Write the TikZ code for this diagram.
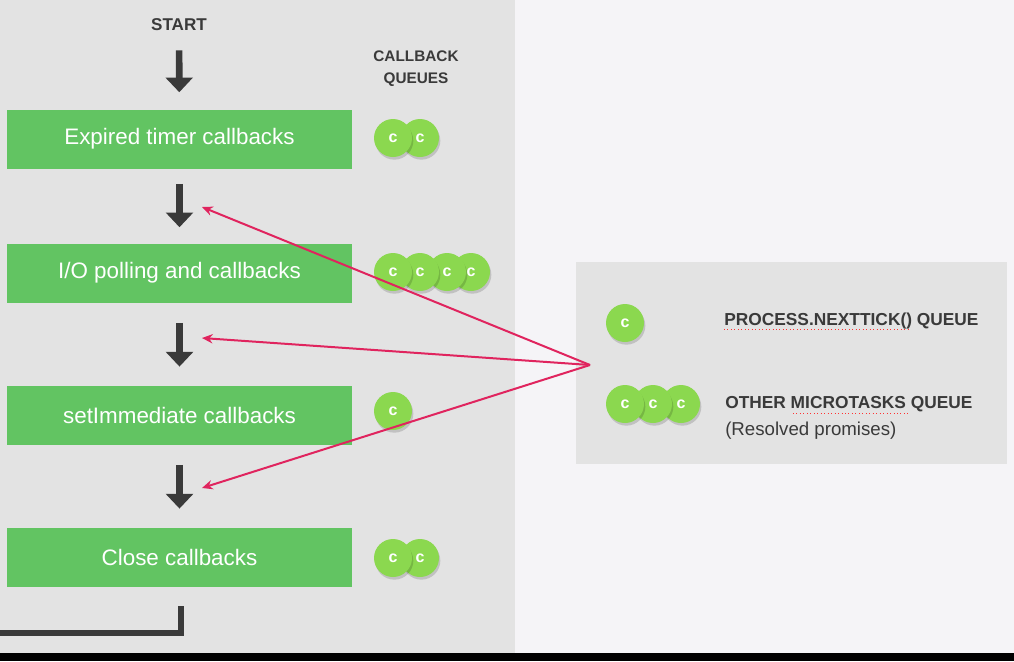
\documentclass[tikz,border=0pt]{standalone}
\usepackage{fontspec}
\setmainfont{Liberation Sans}
\usetikzlibrary{arrows.meta,shadows}
\definecolor{panel}{HTML}{E3E3E3}
\definecolor{page}{HTML}{F5F4F7}
\definecolor{phasegreen}{HTML}{62C462}
\definecolor{cbgreen}{HTML}{8BD84F}
\definecolor{ink}{HTML}{3A3A3A}
\definecolor{tickred}{HTML}{E0245E}
\tikzset{
  phase/.style={fill=phasegreen, text=white, minimum width=258.75pt, minimum height=44.25pt,
    inner sep=0pt, font=\fontsize{16.8}{20}\selectfont},
  cb/.style={circle, fill=cbgreen, minimum size=28.5pt, inner sep=0pt, text=white,
    font=\bfseries\fontsize{12}{14}\selectfont,
    drop shadow={shadow xshift=1pt, shadow yshift=-2pt, opacity=0.15, fill=black}},
  flow/.style={draw=ink, line width=5pt, -{Triangle[width=20pt,length=11pt]}},
  tick/.style={draw=tickred, line width=1.5pt, -{Stealth[width=7pt,length=8pt]}},
  label/.style={text=ink, font=\bfseries\fontsize{13}{15}\selectfont, anchor=west, inner sep=0pt},
  squiggle/.style={draw=red!80, dotted, line width=0.6pt}
}
\begin{document}
\begin{tikzpicture}[x=0.75pt, y=-0.75pt]
        \useasboundingbox (0,0) rectangle (1014,661);
        % backgrounds
        \fill[page] (0,0) rectangle (1014,661);
        \fill[panel] (0,0) rectangle (515,653);
        \fill[black] (0,653) rectangle (1014,661);
        \fill[panel] (576,262) rectangle (1007,464);
        % phases
        \node[text=ink, font=\bfseries\fontsize{12.8}{15}\selectfont] (start) at (179,25) {START};
        \node[phase] (p1) at (179.5,139) {Expired timer callbacks};
        \node[phase] (p2) at (179.5,273) {I/O polling and callbacks};
        \node[phase] (p3) at (179.5,415) {setImmediate callbacks};
        \node[phase] (p4) at (179.5,557) {Close callbacks};
        \draw[flow, shorten <=11pt, shorten >=12.75pt] (start) -- (p1);
        \draw[flow, shorten <=11.25pt, shorten >=12pt] (p1) -- (p2);
        \draw[flow, shorten <=15pt, shorten >=14pt] (p2) -- (p3);
        \draw[flow, shorten <=15pt, shorten >=14pt] (p3) -- (p4);
        \draw[ink, line width=4pt] (0,633) -- (181,633) -- (181,606);
        % callback queues
        \node[text=ink, font=\bfseries\fontsize{11.5}{16.5}\selectfont, align=center] (cq) at (416,69) {CALLBACK\\QUEUES};
        \node[cb] (c12) at (420,138) {c};
        \node[cb] (c11) at (393,138) {c};
        \node[cb] (c24) at (471,272) {c};
        \node[cb] (c23) at (447,272) {c};
        \node[cb] (c22) at (420,272) {c};
        \node[cb] (c21) at (393,272) {c};
        \node[cb] (c31) at (393,411) {c};
        \node[cb] (c42) at (420,558) {c};
        \node[cb] (c41) at (393,558) {c};
        % microtasks
        \node[cb] (n1) at (625,323) {c};
        \node[cb] (m3) at (681,404) {c};
        \node[cb] (m2) at (653,404) {c};
        \node[cb] (m1) at (625,404) {c};
        \node[label] (nt) at (724,321) {PROCESS.NEXTTICK() QUEUE};
        \node[label] (mt) at (725,404) {OTHER MICROTASKS QUEUE};
        \node[label, font=\fontsize{14}{16}\selectfont] (rp) at (725,431) {(Resolved promises)};
        \draw[squiggle] (724,329) -- (911,329);
        \draw[squiggle] (793,413) -- (910,413);
        % ticks back into the loop
        \coordinate (src) at (590,365);
        \coordinate (t1) at (202,207);
        \coordinate (t2) at (202,338);
        \coordinate (t3) at (202,488);
        \draw[tick] (src) -- (t1);
        \draw[tick] (src) -- (t2);
        \draw[tick] (src) -- (t3);
\end{tikzpicture}
\end{document}
